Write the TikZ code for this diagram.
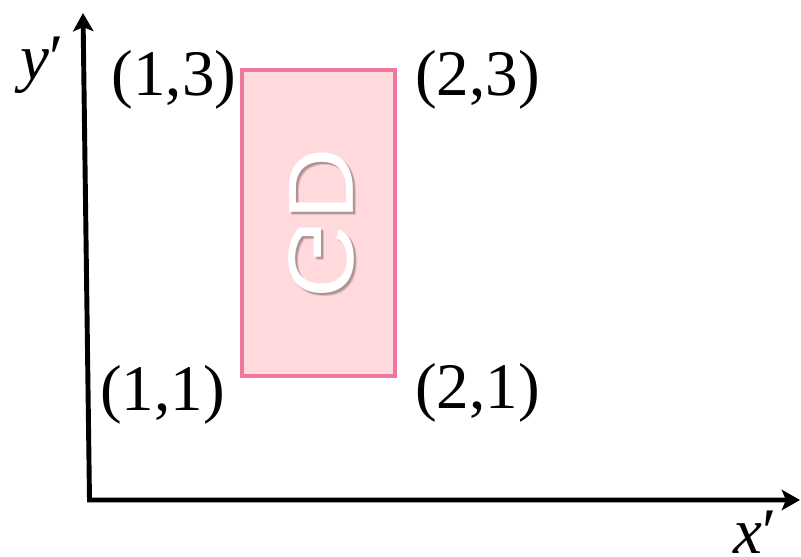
\documentclass[tikz,border=0pt]{standalone}
\usepackage{fontspec}
\setmainfont{Liberation Serif}
\newfontfamily\boxfont{Liberation Sans}
\usepackage{tikz}
\usetikzlibrary{calc, positioning, arrows.meta}
\definecolor{boxline}{RGB}{238,118,160}
\definecolor{boxfill}{RGB}{255,217,219}
\tikzstyle{pt}=[inner sep=0pt, font=\fontsize{18.5}{22}\selectfont]
\tikzstyle{axis}=[line width=1.4pt, line join=miter]
\tikzstyle{box}=[draw=boxline, fill=boxfill, line width=1.1pt, inner sep=0pt]
\tikzstyle{word}=[inner sep=0pt, transform shape, font=\boxfont\fontsize{26.4}{30}\selectfont]
\tikzset{>={Stealth[length=5.2pt,width=5.8pt,inset=1.2pt]}}

\begin{document}
\begin{tikzpicture}
\useasboundingbox (0,0) rectangle (8.01,5.56);
% the axes
\coordinate (O) at (0.895,0.56);
\coordinate (X) at (8.0,0.56);
\coordinate (Y) at (0.83,5.43);
\draw[axis, <->] (Y) -- (O) -- (X);
\node[pt] (ylab) at (0.42,4.91) {\textit{y}′};
\node[pt] (xlab) at (7.55,0.24) {\textit{x}′};
% the rectangle
\node[box, minimum width=1.53cm, minimum height=3.06cm] (R) at (3.185,3.33) {};
% the corner labels
\node[pt] (P13) at (1.74,4.76) {(1,3)};
\node[pt] (P23) at (4.775,4.76) {(2,3)};
\node[pt] (P11) at (1.625,1.61) {(1,1)};
\node[pt] (P21) at (4.775,1.63) {(2,1)};
% the word, flipped over the diagonal
\begin{scope}[shift={(3.24,3.30)}, cm={0,1.08,1,0,(0,0)}]
\node[word, text=black, opacity=0.15] (shadow) {GD};
\end{scope}
\begin{scope}[shift={(3.23,3.31)}, cm={0,1.08,1,0,(0,0)}]
\node[word, text=black, opacity=0.2] (shadow2) {GD};
\end{scope}
\begin{scope}[shift={(3.21,3.33)}, cm={0,1.08,1,0,(0,0)}]
\node[word, text=white] (W) {GD};
\end{scope}
\end{tikzpicture}
\end{document}
